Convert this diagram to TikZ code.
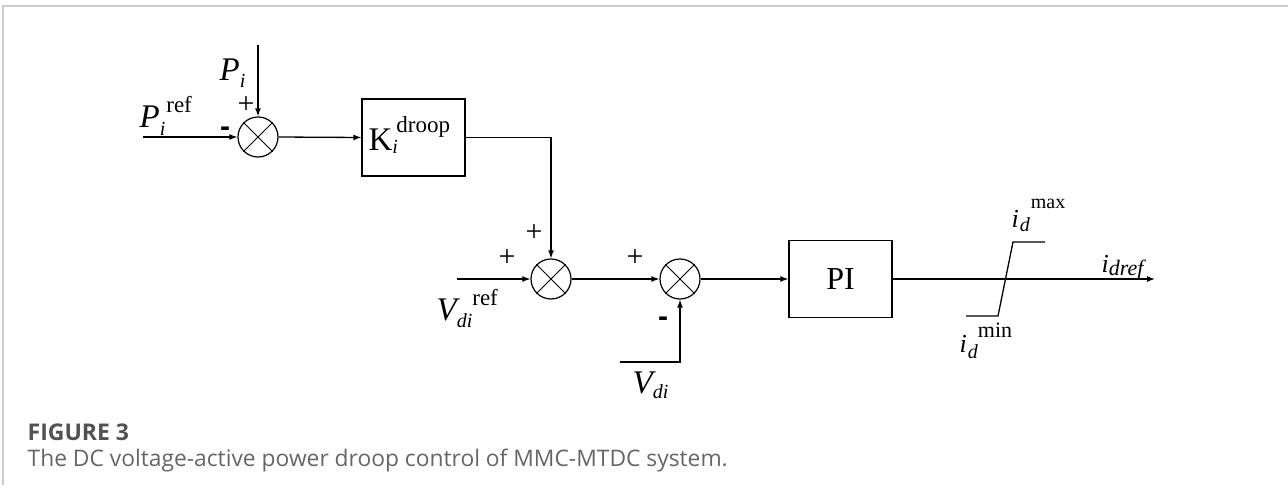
\documentclass[tikz,border=0pt]{standalone}
\usepackage{fontspec}
\setmainfont{Liberation Serif}
\newfontfamily\capfont{Open Sans}
\newfontfamily\signfont{Liberation Sans}
\usetikzlibrary{arrows.meta}
\newcommand{\fsz}[1]{\fontsize{#1}{#1}\selectfont}
\begin{document}
\begin{tikzpicture}[x=1pt,y=-1pt, line width=1.3pt,
  sumnode/.style={circle,draw,minimum size=40pt,inner sep=0pt,line width=1.2pt},
  blockbox/.style={draw,minimum width=103pt,minimum height=77pt,inner sep=0pt,line width=1.2pt},
  sig/.style={-{Latex[length=8pt,width=6pt]}},
  lbl/.style={inner sep=0pt,anchor=base west,font=\fsz{33}},
  plussign/.style={inner sep=0pt,font=\fsz{30}},
  minussign/.style={inner sep=0pt,anchor=base,font=\signfont\bfseries\fsz{30}},
  cross/.style={line width=1pt}]
\useasboundingbox (0,0) rectangle (1288,495);
% frame
\draw[color=black!20, line width=2pt] (3,485) -- (3,6) -- (1288,6);
% summing junctions
\node[sumnode] (s1) at (258,137) {};
\node[sumnode] (s2) at (551,279) {};
\node[sumnode] (s3) at (680,279) {};
\foreach \s in {s1,s2,s3}{
  \draw[cross] (\s.north west) -- (\s.south east);
  \draw[cross] (\s.north east) -- (\s.south west);
}
% blocks
\node[blockbox] (K) at (413.5,137.5) {};
\node[blockbox, font=\fsz{32}] (PI) at (840.5,279) {PI};
% labels
\node[lbl] (Klbl) at (368,150) {K\rlap{\raisebox{-3pt}{\fsz{20}\itshape i}}\hspace{4pt}\raisebox{18pt}{\fsz{23}droop}};
\node[lbl] (Pilbl) at (219,81) {\itshape P\raisebox{-7pt}{\fsz{20}i}};
\node[lbl] (Preflbl) at (139,127) {\itshape P\raisebox{-8pt}{\fsz{20}i}\hspace{1pt}\raisebox{14pt}{\upshape\fsz{23}ref}};
\node[lbl] (Vreflbl) at (436,320) {\itshape V\raisebox{-7pt}{\fsz{20}di}\raisebox{15pt}{\upshape\fsz{23}ref}};
\node[lbl] (Vdilbl) at (632,393) {\itshape V\raisebox{-5pt}{\fsz{20}di}};
\node[lbl, font=\fsz{26}\itshape] (maxlbl) at (1011,227) {i\hspace{1pt}\raisebox{-4pt}{\fsz{20}d}\hspace{1pt}\raisebox{19pt}{\upshape\fsz{20}max}};
\node[lbl, font=\fsz{26}\itshape] (minlbl) at (959,352) {i\hspace{1pt}\raisebox{-6pt}{\fsz{20}d}\raisebox{15pt}{\upshape\fsz{22}min}};
\node[lbl, font=\fsz{26}\itshape] (idreflbl) at (1101,272) {i\raisebox{-3pt}{\fsz{22}dref}};
% signs
\node[plussign] (p1) at (246,105) {+};
\node[plussign] (p2) at (507,258) {+};
\node[plussign] (p3) at (534,233) {+};
\node[plussign] (p4) at (635,258) {+};
\node[minussign] (m1) at (225,136) {-};
\node[minussign] (m2) at (663,326) {-};
% connectors
\coordinate (in1) at (143,137);
\coordinate (pitop) at (258,45);
\coordinate (in2) at (457,279);
\coordinate (vdi) at (620,362);
\coordinate (out) at (1155,279);
\draw[sig] (in1) -- (s1.west);
\draw[sig] (pitop) -- (s1.north);
\draw[sig] (s1.east) -- (K.west);
\draw[sig] (K.east) -| (s2.north);
\draw[sig] (in2) -- (s2.west);
\draw[sig] (s2.east) -- (s3.west);
\draw[sig] (vdi) -| (s3.south);
\draw[sig] (s3.east) -- (PI.west);
\draw[sig] (PI.east) -- (out);
% limiter
\coordinate (l1) at (966,316);
\coordinate (l2) at (998,316);
\coordinate (l3) at (1013,242);
\coordinate (l4) at (1045,242);
\draw (l1) -- (l2) -- (l3) -- (l4);
% caption
\node[anchor=base west, inner sep=0pt, font=\capfont\bfseries\fsz{23}, text=black!68] (fig) at (27,440) {FIGURE 3};
\node[anchor=base west, inner sep=0pt, font=\capfont\fsz{22.8}, text=black!60] (cap) at (27,466) {The DC voltage-active power droop control of MMC-MTDC system.};
\end{tikzpicture}
\end{document}
